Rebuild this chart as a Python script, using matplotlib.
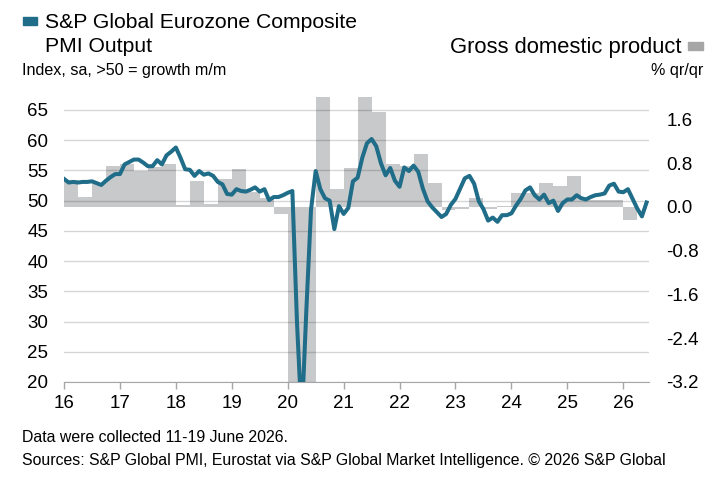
import matplotlib
matplotlib.use('Agg')
import matplotlib.pyplot as plt
from matplotlib.patches import Rectangle
import numpy as np

# PMI composite output, monthly from Jan 2016
pmi_2016 = [53.6, 53.0, 53.1, 53.0, 53.1, 53.1, 53.2, 52.9, 52.6, 53.3, 53.9, 54.4]
pmi_2017 = [54.4, 56.0, 56.4, 56.8, 56.8, 56.3, 55.7, 55.7, 56.7, 56.0, 57.5, 58.1]
pmi_2018 = [58.8, 57.1, 55.2, 55.1, 54.1, 54.9, 54.3, 54.5, 54.1, 53.1, 52.7, 51.1]
pmi_2019 = [51.0, 51.9, 51.6, 51.5, 51.8, 52.2, 51.5, 51.9, 50.1, 50.6, 50.6, 50.9]
pmi_2020 = [51.3, 51.6, 29.7, 13.6, 31.9, 48.5, 54.9, 51.9, 50.4, 50.0, 45.3, 49.1]
pmi_2021 = [47.8, 48.8, 53.2, 53.8, 57.1, 59.5, 60.2, 59.0, 56.2, 54.2, 55.4, 53.3]
pmi_2022 = [52.3, 55.5, 54.9, 55.8, 54.8, 52.0, 49.9, 48.9, 48.1, 47.3, 47.8, 49.3]
pmi_2023 = [50.3, 52.0, 53.7, 54.1, 52.8, 49.9, 48.6, 46.7, 47.2, 46.5, 47.6, 47.6]
pmi_2024 = [47.9, 49.2, 50.3, 51.7, 52.2, 50.9, 50.2, 51.0, 49.6, 50.0, 48.3, 49.6]
pmi_2025 = [50.2, 50.2, 50.9, 50.4, 50.2, 50.6, 50.9, 51.0, 51.2, 52.5, 52.8, 51.5]
pmi_2026 = [51.4, 51.9, 50.3, 48.7, 47.4, 49.7]

# GDP % q/q, quarterly from 2016 Q1
gdp = [0.50, 0.18, 0.43, 0.74,
       0.78, 0.66, 0.73, 0.79,
       0.03, 0.47, 0.06, 0.52,
       0.70, 0.28, 0.16, -0.12,
       -3.5, -11.5, 12.4, 0.32,
       0.71, 2.2, 1.73, 0.78,
       0.75, 0.96, 0.44, -0.05,
       -0.04, 0.16, -0.04, 0.02,
       0.26, 0.26, 0.44, 0.38,
       0.56, 0.13, 0.13, 0.12,
       -0.24]

year_labels = ['16', '17', '18', '19', '20', '21', '22', '23', '24', '25', '26']
pmi_ticks = [20, 25, 30, 35, 40, 45, 50, 55, 60, 65]
gdp_ticks = [-3.2, -2.4, -1.6, -0.8, 0.0, 0.8, 1.6]

pmi = pmi_2016 + pmi_2017 + pmi_2018 + pmi_2019 + pmi_2020 + pmi_2021 + \
    pmi_2022 + pmi_2023 + pmi_2024 + pmi_2025 + pmi_2026
months = 2016 + np.arange(len(pmi)) / 12
quarters = 2016 + np.arange(len(gdp)) / 4

teal = '#1f6d89'
grey = '#c8c9cb'
plt.rcParams['font.family'] = ['Liberation Sans', 'DejaVu Sans']

fig = plt.figure(figsize=(7.22, 4.82), dpi=100)
ax = fig.add_axes([64 / 722, 1 - 382 / 482, 585 / 722, 285 / 482])

# GDP bars on the base axes, scale shown on the right
ax.bar(quarters, gdp, width=0.25, align='edge', color=grey, linewidth=0)
ax.set_ylim(-3.2, 2.01)
ax.set_xlim(2016, 2026.46)
ax.set_xticks(range(2016, 2027))
ax.set_xticklabels(year_labels)
ax.tick_params(axis='x', length=5, width=1, color='#a6a6a6', pad=4, labelsize=13.5)
for s in ['top', 'left', 'right']:
    ax.spines[s].set_visible(False)
ax.spines['bottom'].set_color('#a6a6a6')

# PMI line on the twin axes, scale shown on the left
ax2 = ax.twinx()
ax2.yaxis.tick_left()
ax2.set_ylim(20, 67.15)
ax2.set_yticks(pmi_ticks)
ax2.tick_params(axis='y', length=0, pad=11.5, labelsize=13.5)
ax2.grid(axis='y', color='black', alpha=0.16, linewidth=1)
ax2.set_axisbelow(True)
ax2.plot(months, pmi, color=teal, linewidth=2.9, solid_joinstyle='round', zorder=3)
for s in ['top', 'left', 'right', 'bottom']:
    ax2.spines[s].set_visible(False)

# twinx puts the base ticks on the left, so move them back
ax.yaxis.tick_right()
ax.set_yticks(gdp_ticks)
ax.set_yticklabels([f'{v:.1f}' for v in gdp_ticks])
ax.tick_params(axis='y', length=0, pad=12.5, labelsize=13.5)

# headers
fig.text(45 / 722, 1 - 22 / 482, 'S&P Global Eurozone Composite', fontsize=15.2,
         va='center', ha='left')
fig.text(45 / 722, 1 - 47 / 482, 'PMI Output', fontsize=15.2,
         va='center', ha='left')
fig.text(22 / 722, 1 - 70 / 482, 'Index, sa, >50 = growth m/m', fontsize=11.6,
         va='center', ha='left')
fig.text(682 / 722, 1 - 47 / 482, 'Gross domestic product', fontsize=15.8,
         va='center', ha='right')
fig.text(703 / 722, 1 - 70 / 482, '% qr/qr', fontsize=11.6,
         va='center', ha='right')
fig.patches.append(Rectangle((23 / 722, 1 - 25 / 482), 14 / 722, 8 / 482,
                             transform=fig.transFigure, color=teal))
fig.patches.append(Rectangle((688 / 722, 1 - 50 / 482), 15 / 722, 8 / 482,
                             transform=fig.transFigure, color='#a6a6a6'))

# footnotes
fig.text(22 / 722, 1 - 437 / 482, 'Data were collected 11-19 June 2026.', fontsize=11.4,
         va='center', ha='left')
fig.text(22 / 722, 1 - 460 / 482,
         'Sources: S&P Global PMI, Eurostat via S&P Global Market Intelligence. \u00a9 2026 S&P Global',
         fontsize=11.4, va='center', ha='left')

fig.savefig('out.png', dpi=100)
